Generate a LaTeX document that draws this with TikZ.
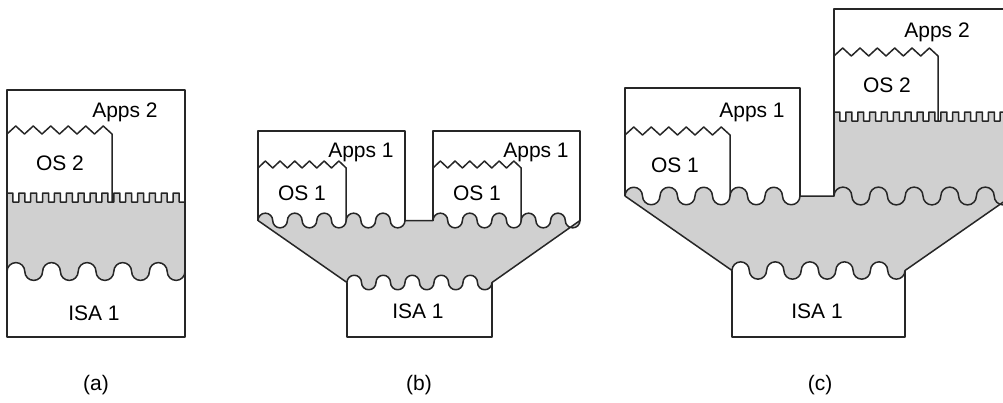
\documentclass[tikz,border=0pt]{standalone}
\usepackage{fontspec}
\setmainfont{Liberation Sans}
\definecolor{layergray}{RGB}{208,208,208}
\begin{document}
\begin{tikzpicture}[x=1pt,y=-1pt,line width=1.5pt,line join=round,
        txt/.style={anchor=base,inner sep=0pt,font=\fontsize{21}{25}\selectfont},
        layer/.style={draw=black!85,fill=layergray},
        box/.style={draw=black!85}]
    \useasboundingbox (0,0) rectangle (1003,402);
    \clip (0,0) rectangle (1003,402);
    % (a)
    \path [layer] (7,193) \foreach \i in {1,...,15}{ -- ++(5.935,0) -- ++(0,9) -- ++(5.935,0) -- ++(0,-9) } -- (185,271.5)
        \foreach \i in {1,...,5}{ arc[start angle=0,end angle=-180,radius=8.9pt] arc[start angle=0,end angle=180,radius=8.9pt] } -- cycle;
    \draw [box] (7,90) rectangle (185,337);
    \draw [box] (7,134) \foreach \i in {1,...,6}{ -- ++(8.75,-8) -- ++(8.75,8) } -- (112,202);
    \node [txt] (appsa) at (125,117) {Apps 2};
    \node [txt] (osa) at (60,170) {OS 2};
    \node [txt] (isaa) at (94,320) {ISA 1};
    \node [txt] (capa) at (96,390) {(a)};
    % (b)
    \path [layer] (258,220.5) \foreach \i in {1,...,5}{ arc[start angle=180,end angle=0,radius=7.35pt] arc[start angle=180,end angle=360,radius=7.35pt] } -- (433,220.5)
        \foreach \i in {1,...,5}{ arc[start angle=180,end angle=0,radius=7.35pt] arc[start angle=180,end angle=360,radius=7.35pt] } -- (492,282.5)
        \foreach \i in {1,...,5}{ arc[start angle=0,end angle=-180,radius=7.25pt] arc[start angle=0,end angle=180,radius=7.25pt] } -- cycle;
    \draw [box] (258,220.5) -- (258,131) -- (405,131) -- (405,220.5);
    \draw [box] (433,220.5) -- (433,131) -- (580,131) -- (580,220.5);
    \draw [box] (258,168) \foreach \i in {1,...,6}{ -- ++(7.35,-7) -- ++(7.35,7) } -- (346.2,220.5);
    \draw [box] (433,168) \foreach \i in {1,...,6}{ -- ++(7.35,-7) -- ++(7.35,7) } -- (521.2,220.5);
    \draw [box] (347,282.5) -- (347,337) -- (492,337) -- (492,282.5);
    \node [txt] (appsb1) at (361,157) {Apps 1};
    \node [txt] (osb1) at (302,200) {OS 1};
    \node [txt] (appsb2) at (536,157) {Apps 1};
    \node [txt] (osb2) at (477,200) {OS 1};
    \node [txt] (isab) at (418,318) {ISA 1};
    \node [txt] (capb) at (419,390) {(b)};
    % (c)
    \path [layer] (625,196) \foreach \i in {1,...,5}{ arc[start angle=180,end angle=0,radius=8.75pt] arc[start angle=180,end angle=360,radius=8.75pt] } -- (834,196) -- (834,112)
        \foreach \i in {1,...,15}{ -- ++(5.935,0) -- ++(0,9) -- ++(5.935,0) -- ++(0,-9) } -- (1012,196) -- (905,270.5)
        \foreach \i in {1,...,5}{ arc[start angle=0,end angle=-180,radius=8.65pt] arc[start angle=0,end angle=180,radius=8.65pt] } -- cycle;
    \draw [box] (834,196) \foreach \i in {1,...,5}{ arc[start angle=180,end angle=0,radius=8.9pt] arc[start angle=180,end angle=360,radius=8.9pt] };
    \draw [box] (625,196) -- (625,88) -- (800,88) -- (800,196);
    \draw [box] (834,196) -- (834,9) -- (1012,9) -- (1012,196);
    \draw [box] (625,135) \foreach \i in {1,...,6}{ -- ++(8.75,-8) -- ++(8.75,8) } -- (730,196);
    \draw [box] (834,56) \foreach \i in {1,...,6}{ -- ++(8.67,-8) -- ++(8.67,8) } -- (938,121);
    \draw [box] (732,270.5) -- (732,337) -- (905,337) -- (905,270.5);
    \node [txt] (appsc1) at (752,117) {Apps 1};
    \node [txt] (osc1) at (675,172) {OS 1};
    \node [txt] (appsc2) at (937,37) {Apps 2};
    \node [txt] (osc2) at (887,92) {OS 2};
    \node [txt] (isac) at (817,318) {ISA 1};
    \node [txt] (capc) at (820,390) {(c)};
\end{tikzpicture}
\end{document}
